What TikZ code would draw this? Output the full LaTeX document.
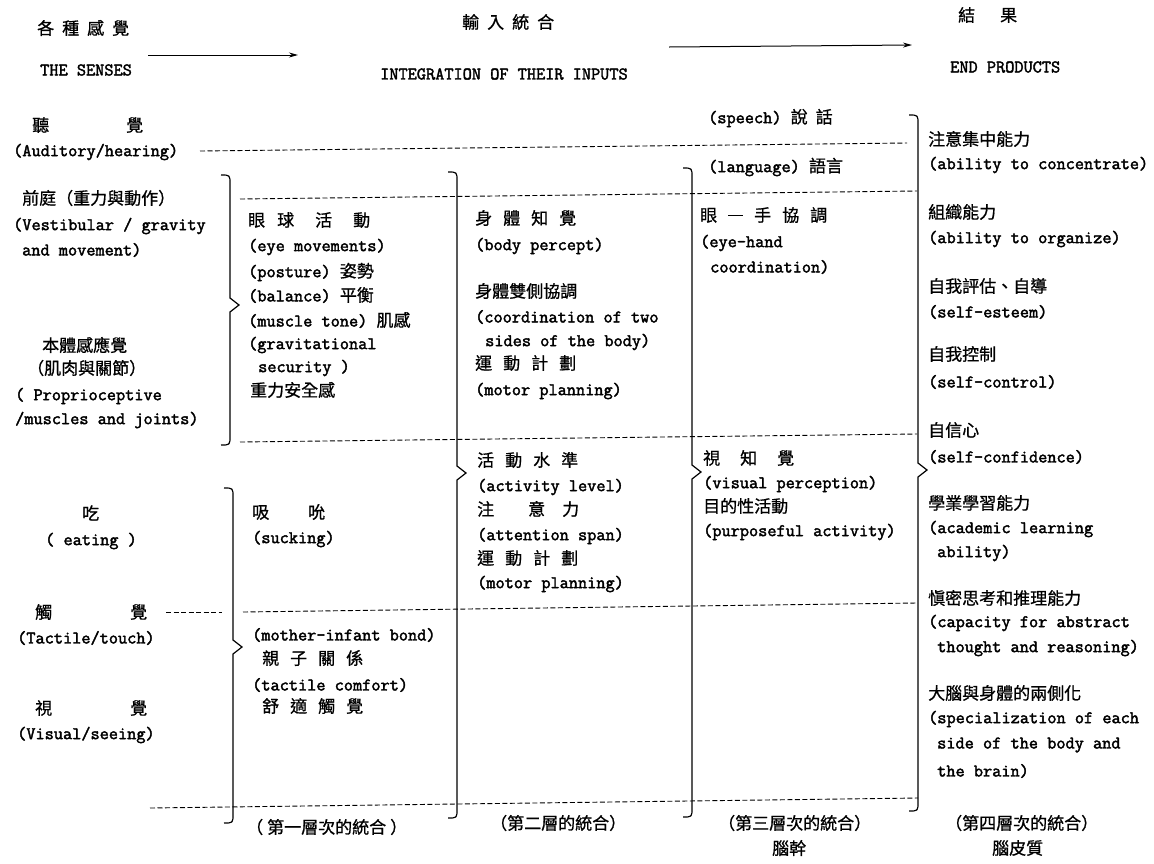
\documentclass[tikz,border=0pt]{standalone}
\usepackage{fontspec}
\newfontfamily\tw{Latin Modern Mono}[FakeBold=2.2]
\newfontfamily\cjk{Noto Sans CJK TC}[FakeBold=0.8]
\usetikzlibrary{arrows.meta}
\newcommand\zh[1]{{\cjk\fontsize{17}{18}\selectfont #1}}
\newcommand\cg[1]{\hspace*{#1pt}}
\newcommand\ddash{\rule[0.33em]{15pt}{1.3pt}}
\newcommand\mybrace[4]{%
  \draw[bracel] (#1-9,#2) .. controls (#1,#2) .. (#1,#2+9) -- (#1,#3-7) -- (#1+9,#3) -- (#1,#3+7) -- (#1,#4-9) .. controls (#1,#4) .. (#1-9,#4);}
\tikzset{
  lat/.style={anchor=west, inner sep=0pt, font=\fontsize{17.8}{20}\selectfont\tw},
  cj/.style={anchor=west, inner sep=0pt, font=\fontsize{17}{18}\selectfont\cjk},
  sepline/.style={dash pattern=on 5pt off 2.5pt, line width=0.9pt},
  bracel/.style={line width=1.2pt},
  flow/.style={line width=1pt, -{Stealth[length=9pt,width=5pt]}},
}
\begin{document}
\begin{tikzpicture}[x=1pt,y=-1pt]
\fill[white] (0,0) rectangle (1154,863);
\useasboundingbox (0,0) rectangle (1154,863);

% headers
\node[cj] (h1) at (37,28) {各\cg{8}種\cg{8}感\cg{8}覺};
\node[lat] (h2) at (40,70) {THE SENSES};
\node[cj] (h3) at (462,22) {輸\cg{8}入\cg{8}統\cg{8}合};
\node[lat] (h4) at (380,74) {INTEGRATION OF THEIR INPUTS};
\node[cj] (h5) at (958,15) {結\cg{25}果};
\node[lat] (h6) at (950,67) {END PRODUCTS};
\coordinate (a1s) at (148,55);
\coordinate (a1e) at (298,55);
\coordinate (a2s) at (669,47);
\coordinate (a2e) at (912,45);
\draw[flow] (a1s) -- (a1e);
\draw[flow] (a2s) -- (a2e);

% dashed separators
\draw[sepline] (200,151) -- (907,143);
\draw[sepline] (240,199) -- (917,191);
\draw[sepline] (240,442) -- (917,434);
\draw[sepline] (166,612) -- (222,612);
\draw[sepline] (243,612) -- (917,603);
\draw[sepline] (150,808) -- (918,798);

% braces
\mybrace{230}{175}{305}{445}
\mybrace{233}{488}{647}{823}
\mybrace{457}{172}{473}{818}
\mybrace{692}{168}{472}{817}
\mybrace{918}{115}{470}{811}

% column 0: senses
\node[cj] (s1) at (32,125) {聽\cg{77}覺};
\node[lat] (s2) at (13,152) {(Auditory/hearing)};
\node[cj] (s3) at (22,198) {前庭（重力與動作）};
\node[lat] (s4) at (13,226) {(Vestibular / gravity};
\node[lat] (s5) at (22,250) {and movement)};
\node[cj] (s6) at (42,345) {本體感應覺};
\node[cj] (s7) at (27,368) {（肌肉與關節）};
\node[lat] (s8) at (15,396) {( Proprioceptive};
\node[lat] (s9) at (15,420) {/muscles and joints)};
\node[cj] (s10) at (82,513) {吃};
\node[lat] (s11) at (45,541) {( eating )};
\node[cj] (s12) at (35,612) {觸\cg{78}覺};
\node[lat] (s13) at (17,638) {(Tactile/touch)};
\node[cj] (s14) at (35,708) {視\cg{78}覺};
\node[lat] (s15) at (17,735) {(Visual/seeing)};

% column 1
\node[cj] (c1) at (248,220) {眼\cg{12}球\cg{21}活\cg{21}動};
\node[lat] (c2) at (248,247) {(eye movements)};
\node[lat] (c3) at (248,272) {(posture) \zh{姿勢}};
\node[lat] (c4) at (248,295) {(balance) \zh{平衡}};
\node[lat] (c5) at (248,320) {(muscle tone) \zh{肌感}};
\node[lat] (c6) at (248,345) {(gravitational};
\node[lat] (c7) at (258,368) {security )};
\node[cj] (c8) at (250,390) {重力安全感};
\node[cj] (c9) at (252,512) {吸\cg{39}吮};
\node[lat] (c10) at (252,539) {(sucking)};
\node[lat] (c11) at (252,635) {(mother-infant bond)};
\node[cj] (c12) at (262,658) {親\cg{11}子\cg{11}關\cg{11}係};
\node[lat] (c13) at (252,685) {(tactile comfort)};
\node[cj] (c14) at (262,706) {舒\cg{11}適\cg{11}觸\cg{11}覺};
\node[cj] (c15) at (246,827) {（\cg{4}第一層次的統合\cg{4}）};

% column 2
\node[cj] (d1) at (475,218) {身\cg{11}體\cg{11}知\cg{11}覺};
\node[lat] (d2) at (475,246) {(body percept)};
\node[cj] (d3) at (475,291) {身體雙側協調};
\node[lat] (d4) at (475,317) {(coordination of two};
\node[lat] (d5) at (485,342) {sides of the body)};
\node[cj] (d6) at (475,363) {運\cg{11}動\cg{11}計\cg{11}劃};
\node[lat] (d7) at (475,391) {(motor planning)};
\node[cj] (d8) at (477,460) {活\cg{11}動\cg{11}水\cg{11}準};
\node[lat] (d9) at (477,487) {(activity level)};
\node[cj] (d10) at (477,509) {注\cg{34}意\cg{17}力};
\node[lat] (d11) at (477,536) {(attention span)};
\node[cj] (d12) at (477,558) {運\cg{11}動\cg{11}計\cg{11}劃};
\node[lat] (d13) at (477,584) {(motor planning)};
\node[cj] (d14) at (490,823) {（第二層的統合）};

% column 3
\node[lat] (e1) at (708,118) {(speech) \zh{說\cg{8}話}};
\node[lat] (e2) at (708,167) {(language) \zh{語言}};
\node[cj] (e3) at (700,215) {眼\cg{11}\ddash\cg{11}手\cg{11}協\cg{11}調};
\node[lat] (e4) at (700,243) {(eye-hand};
\node[lat] (e5) at (710,267) {coordination)};
\node[cj] (e6) at (703,458) {視\cg{20}知\cg{20}覺};
\node[lat] (e7) at (703,484) {(visual perception)};
\node[cj] (e8) at (703,506) {目的性活動};
\node[lat] (e9) at (703,532) {(purposeful activity)};
\node[cj] (e10) at (718,823) {（第三層次的統合）};
\node[cj] (e11) at (772,848) {腦幹};

% column 4
\node[cj] (f1) at (928,139) {注意集中能力};
\node[lat] (f2) at (928,165) {(ability to concentrate)};
\node[cj] (f3) at (928,212) {組織能力};
\node[lat] (f4) at (928,239) {(ability to organize)};
\node[cj] (f5) at (928,286) {自我評估、自導};
\node[lat] (f6) at (928,312) {(self-esteem)};
\node[cj] (f7) at (928,354) {自我控制};
\node[lat] (f8) at (928,382) {(self-control)};
\node[cj] (f9) at (928,430) {自信心};
\node[lat] (f10) at (928,457) {(self-confidence)};
\node[cj] (f11) at (928,503) {學業學習能力};
\node[lat] (f12) at (928,529) {(academic learning};
\node[lat] (f13) at (937,553) {ability)};
\node[cj] (f14) at (928,598) {愼密思考和推理能力};
\node[lat] (f15) at (928,623) {(capacity for abstract};
\node[lat] (f16) at (937,648) {thought and reasoning)};
\node[cj] (f17) at (928,693) {大腦與身體的兩側化};
\node[lat] (f18) at (928,719) {(specialization of each};
\node[lat] (f19) at (937,745) {side of the body and};
\node[lat] (f20) at (937,771) {the brain)};
\node[cj] (f21) at (945,823) {（第四層次的統合）};
\node[cj] (f22) at (992,848) {腦皮質};
\end{tikzpicture}
\end{document}
